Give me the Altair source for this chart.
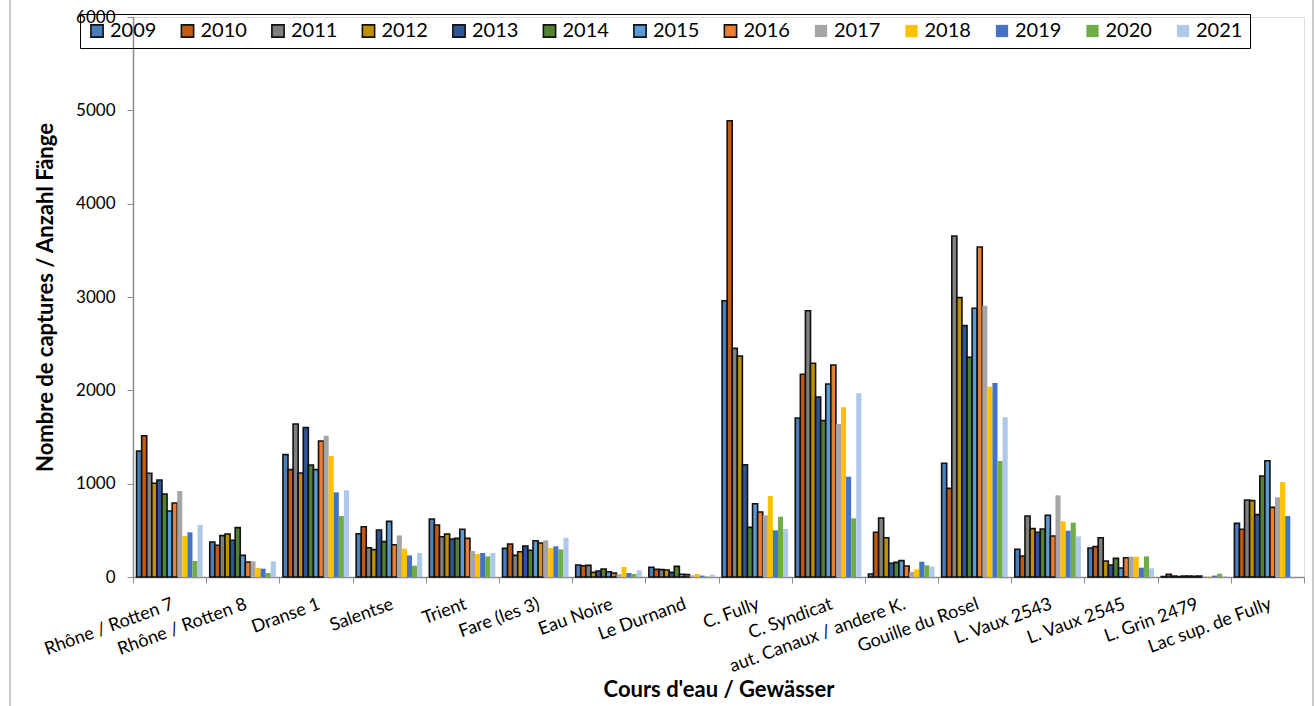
import altair as alt
import pandas as pd

# Catches per water body, one value per year 2009-2021
years = [str(y) for y in range(2009, 2022)]

rivers = [
    "Rhône / Rotten 7", "Rhône / Rotten 8", "Dranse 1", "Salentse", "Trient",
    "Fare (les 3)", "Eau Noire", "Le Durnand", "C. Fully", "C. Syndicat",
    "aut. Canaux / andere K.", "Gouille du Rosel", "L. Vaux 2543",
    "L. Vaux 2545", "L. Grin  2479", "Lac sup. de Fully",
]

rhone_7 = [1350, 1514, 1111, 1004, 1039, 889, 707, 793, 921, 439, 479, 171, 557]
rhone_8 = [375, 340, 443, 461, 393, 529, 232, 161, 168, 96, 89, 43, 168]
dranse_1 = [1311, 1150, 1639, 1114, 1600, 1200, 1150, 1457, 1514, 1296, 907, 654, 929]
salentse = [464, 539, 314, 293, 504, 379, 596, 346, 446, 303, 232, 121, 257]
trient = [621, 557, 432, 461, 407, 414, 511, 414, 279, 246, 257, 221, 257]
fare = [307, 354, 232, 271, 332, 286, 389, 364, 393, 311, 329, 296, 421]
eau_noire = [129, 121, 125, 50, 64, 86, 57, 43, 29, 107, 43, 32, 71]
durnand = [104, 82, 79, 75, 50, 114, 29, 25, 18, 32, 15, 5, 25]
c_fully = [2960, 4889, 2450, 2368, 1203, 532, 785, 696, 661, 868, 500, 646, 514]
c_syndicat = [1704, 2172, 2853, 2290, 1929, 1675, 2068, 2272, 1639, 1818, 1075, 629, 1968]
aut_canaux = [32, 479, 632, 421, 147, 157, 175, 118, 54, 82, 164, 125, 111]
gouille_rosel = [1218, 950, 3654, 2993, 2693, 2354, 2879, 3536, 2907, 2039, 2079, 1243, 1711]
vaux_2543 = [297, 225, 654, 518, 479, 514, 661, 439, 875, 596, 496, 582, 436]
vaux_2545 = [311, 325, 421, 171, 129, 200, 96, 207, 218, 218, 100, 221, 93]
grin_2479 = [5, 28, 10, 5, 10, 10, 8, 10, 5, 5, 15, 35, 10]
lac_sup_fully = [575, 511, 825, 818, 668, 1082, 1246, 746, 854, 1018, 654, None, None]

series = [
    rhone_7, rhone_8, dranse_1, salentse, trient, fare, eau_noire, durnand,
    c_fully, c_syndicat, aut_canaux, gouille_rosel, vaux_2543, vaux_2545,
    grin_2479, lac_sup_fully,
]

colors = [
    "#4A7EBB", "#C55A11", "#7F7F7F", "#BF9000", "#2F5597", "#548235", "#5B9BD5",
    "#ED7D31", "#A5A5A5", "#FFC000", "#4472C4", "#70AD47", "#AEC8EA",
]
# 2009-2016 bars carry a dark outline, later years none
outlines = ["#111111"] * 8 + ["transparent"] * 5

rows = []
for river, vals in zip(rivers, series):
    for year, v in zip(years, vals):
        if v is not None:
            rows.append({"river": river, "year": year, "catches": v})
df = pd.DataFrame(rows)

FONT = "Lato"
W, H = 1171, 560

legend_opts = dict(
    title=None, orient="none", legendX=-53, legendY=-3,
    direction="horizontal", columns=13, symbolType="square",
    symbolSize=150, symbolStrokeWidth=1.6, labelFont=FONT,
    labelFontSize=20, labelColor="#000000", labelOffset=3,
    columnPadding=20.5, padding=7, strokeColor="#000000",
)

bars = alt.Chart(df).mark_bar(strokeWidth=1.6).encode(
    x=alt.X(
        "river:N",
        sort=rivers,
        scale=alt.Scale(paddingInner=0, paddingOuter=0),
        axis=alt.Axis(
            title="Cours d'eau / Gewässer",
            titleFont=FONT, titleFontSize=22, titleFontWeight="bold",
            titleColor="#000000", titlePadding=4,
            labelFont=FONT, labelFontSize=18, labelColor="#000000",
            labelAngle=340, labelAlign="right", labelBaseline="top",
            labelPadding=12, labelOverlap=False, labelLimit=400,
            tickBand="extent", tickSize=6, tickColor="#8C8C8C",
            domainColor="#8C8C8C", domainWidth=1.5,
        ),
    ),
    xOffset=alt.XOffset(
        "year:N", sort=years,
        scale=alt.Scale(paddingInner=0, paddingOuter=0.7),
    ),
    y=alt.Y(
        "catches:Q",
        scale=alt.Scale(domain=[0, 6000]),
        axis=alt.Axis(
            title="Nombre de captures / Anzahl Fänge",
            titleFont=FONT, titleFontSize=22, titleFontWeight="bold",
            titleColor="#000000", titlePadding=18,
            values=[0, 1000, 2000, 3000, 4000, 5000, 6000], format="d",
            labelFont=FONT, labelFontSize=17, labelColor="#000000",
            labelPadding=12, tickSize=6, tickColor="#8C8C8C",
            domainColor="#8C8C8C", domainWidth=1.5, grid=False,
        ),
    ),
    fill=alt.Fill(
        "year:N", sort=years,
        scale=alt.Scale(domain=years, range=colors),
        legend=alt.Legend(**legend_opts),
    ),
    stroke=alt.Stroke(
        "year:N", sort=years,
        scale=alt.Scale(domain=years, range=outlines),
        legend=alt.Legend(**legend_opts),
    ),
)

# thin grey frame lines at both sides of the chart area
frame = alt.Chart(pd.DataFrame({"side": ["left", "right"], "px": [-123, 1180]})).mark_rule(
    color="#A6A6A6", strokeWidth=1.2
).encode(
    x=alt.X("px:Q", scale=None),
    y=alt.value(-17),
    y2=alt.value(H + 129),
)

chart = alt.layer(frame, bars).properties(
    width=W, height=H,
    autosize=alt.AutoSizeParams(type="none"),
    padding={"left": 133, "top": 17, "right": 12, "bottom": 129},
).configure_view(stroke=None).configure(background="#FFFFFF")

chart.save("out.html", embed_options={"renderer": "svg", "actions": False})
